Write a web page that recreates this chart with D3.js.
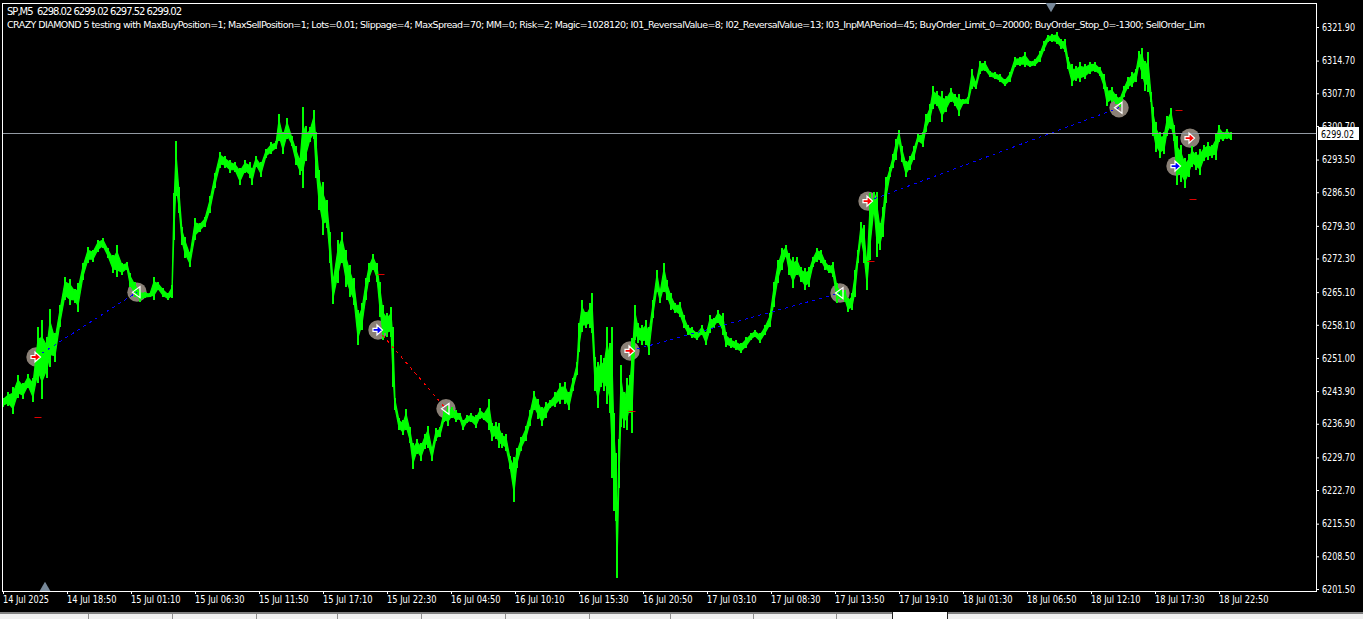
<!DOCTYPE html>
<html><head><meta charset="utf-8"><title>SP,M5</title>
<script src="https://cdn.jsdelivr.net/npm/d3@7"></script>
<style>html,body{margin:0;padding:0;background:#000;overflow:hidden}svg{display:block}
text{font-family:"DejaVu Sans",sans-serif;fill:#fff}</style></head><body>
<script>
const barNumber=[3,8,13,18,23,28,33,38,42,47,50,55,60,65,70,75,78,83,88,93,98,103,108,113,117,122,127,130,135,140,145,150,154,158,163,168,172,174,176,179,182,185,190,195,200,205,210,215,220,225,230,235,240,245,250,252,256,261,266,271,276,279,283,287,292,296,300,303,306,310,314,316,319,323,327,330,333,338,342,346,350,354,358,362,366,369,373,377,380,383,387,391,393,395,399,403,406,410,413,417,421,425,428,432,436,440,444,448,452,456,460,463,467,471,476,480,484,489,492,496,499,502,506,510,514,517,521,526,530,534,538,542,546,550,555,560,565,569,573,577,579,582,586,590,592,595,598,601,604,607,610,612,614,616,617,619,621,624,627,630,632,635,638,642,646,649,653,657,660,664,667,671,675,680,684,688,692,697,702,706,710,714,718,723,726,731,736,741,746,751,755,760,765,770,774,778,782,786,789,793,797,801,805,809,813,817,821,825,829,833,837,841,845,848,852,855,858,861,864,867,870,874,877,880,883,886,890,893,896,899,902,906,910,914,918,923,926,930,933,937,942,946,951,955,959,963,968,972,976,980,985,990,995,1000,1005,1010,1015,1020,1025,1030,1035,1040,1044,1048,1052,1057,1061,1065,1068,1072,1076,1080,1085,1090,1095,1100,1104,1107,1112,1116,1120,1124,1128,1132,1136,1139,1142,1145,1148,1151,1153,1156,1160,1164,1167,1171,1174,1177,1181,1185,1189,1192,1196,1200,1204,1208,1212,1216,1219,1223,1227,1231];
const barHigh=[6242.5,6243.6,6244.7,6247.3,6245.6,6247.5,6246.6,6257.6,6259.1,6255.4,6261.5,6256.3,6262.3,6268.4,6267.9,6265.8,6267.1,6271.4,6274.8,6274.2,6276.3,6276.7,6274.6,6273.1,6275.2,6271.4,6271.6,6269.2,6267.3,6265.5,6265.1,6264.9,6268.4,6267.3,6266.0,6264.9,6266.6,6286.4,6297.4,6287.7,6279.1,6277.0,6273.7,6281.0,6280.0,6281.3,6285.6,6290.7,6295.2,6294.2,6293.5,6292.9,6291.8,6293.3,6292.9,6291.8,6294.2,6292.9,6295.7,6297.2,6297.4,6303.2,6299.3,6302.5,6298.5,6296.3,6293.9,6304.7,6300.6,6300.4,6304.1,6299.3,6291.3,6288.6,6284.9,6278.0,6268.4,6276.3,6278.0,6274.2,6270.9,6268.1,6261.2,6262.8,6268.1,6271.4,6273.3,6271.4,6267.3,6262.3,6260.6,6261.9,6257.6,6242.5,6238.2,6237.6,6240.0,6236.1,6232.7,6233.7,6232.7,6234.8,6236.5,6231.8,6235.9,6236.1,6239.8,6240.8,6240.4,6239.8,6239.3,6237.6,6238.7,6239.1,6238.7,6240.2,6239.3,6242.1,6237.0,6237.2,6237.0,6235.0,6234.8,6230.1,6229.7,6231.8,6234.0,6236.5,6239.8,6244.0,6242.3,6240.4,6241.5,6241.9,6243.6,6245.6,6245.8,6243.6,6246.8,6250.1,6258.5,6263.4,6260.8,6262.8,6264.9,6251.1,6250.1,6251.6,6250.9,6257.6,6254.2,6257.6,6239.3,6230.7,6216.1,6233.7,6249.4,6243.6,6246.8,6247.3,6255.2,6262.3,6258.5,6258.0,6259.1,6257.6,6263.4,6269.9,6265.5,6271.4,6267.7,6264.9,6262.8,6263.0,6260.2,6258.0,6257.6,6256.5,6258.0,6256.5,6260.2,6259.5,6261.2,6260.6,6256.5,6255.2,6254.8,6254.2,6255.4,6256.3,6257.0,6256.3,6258.0,6260.6,6267.3,6272.0,6274.6,6275.2,6273.5,6272.7,6272.7,6270.5,6270.3,6270.5,6272.7,6274.6,6274.2,6272.0,6270.9,6271.6,6267.1,6265.5,6265.5,6263.8,6264.9,6269.9,6274.2,6280.2,6279.5,6272.0,6286.4,6286.6,6286.6,6280.0,6283.4,6289.8,6292.0,6294.6,6297.8,6299.8,6296.3,6293.1,6294.2,6296.3,6298.9,6299.5,6303.2,6305.3,6309.2,6308.1,6308.1,6307.1,6308.8,6307.5,6307.5,6306.4,6306.9,6312.9,6310.1,6314.6,6314.6,6312.4,6312.2,6311.8,6310.7,6312.2,6315.5,6315.5,6316.5,6314.6,6315.0,6316.7,6318.9,6320.2,6320.4,6320.8,6319.3,6319.3,6315.5,6313.9,6313.5,6314.4,6313.9,6314.4,6314.4,6313.3,6311.8,6309.0,6309.0,6307.5,6306.9,6309.2,6311.2,6312.2,6312.9,6316.7,6317.4,6314.6,6316.5,6307.9,6304.7,6301.5,6299.5,6299.5,6302.8,6304.5,6301.0,6298.5,6296.7,6293.9,6294.6,6296.3,6295.2,6295.7,6296.7,6297.2,6296.7,6298.9,6301.0,6299.5,6300.0,6299.3];
const barLow=[6240.4,6240.8,6238.9,6242.5,6242.3,6244.5,6241.5,6245.6,6242.3,6246.8,6249.0,6250.1,6257.6,6263.4,6262.3,6262.8,6260.8,6267.7,6271.4,6271.6,6273.7,6274.6,6272.4,6269.2,6268.4,6268.8,6269.9,6266.2,6264.0,6263.0,6263.8,6264.0,6263.4,6265.5,6264.0,6263.4,6263.8,6276.3,6285.6,6282.1,6275.2,6272.4,6270.5,6276.3,6278.0,6279.1,6282.1,6287.5,6291.8,6291.8,6290.7,6290.9,6288.1,6290.7,6289.6,6288.1,6292.0,6289.8,6293.9,6294.6,6295.7,6297.4,6294.6,6297.8,6296.3,6292.4,6290.3,6287.5,6293.1,6297.2,6297.8,6289.6,6282.8,6277.4,6278.9,6271.4,6262.5,6267.1,6271.4,6266.2,6264.0,6262.3,6253.7,6257.0,6263.4,6267.3,6269.9,6267.3,6259.7,6254.8,6255.4,6255.4,6244.7,6239.8,6235.5,6234.4,6235.5,6232.7,6227.3,6230.5,6229.0,6231.6,6231.8,6229.0,6233.3,6234.0,6237.2,6236.5,6238.2,6237.2,6237.6,6235.5,6237.0,6237.2,6235.9,6238.0,6237.6,6235.5,6233.3,6233.7,6231.8,6231.8,6231.1,6227.3,6220.2,6227.5,6231.1,6233.3,6236.5,6239.8,6238.0,6236.5,6238.2,6240.2,6240.4,6241.2,6241.2,6239.8,6244.0,6247.3,6252.2,6256.5,6257.4,6257.4,6256.3,6244.0,6240.2,6244.7,6244.0,6241.2,6239.1,6225.3,6218.2,6216.1,6203.8,6223.2,6236.1,6235.9,6235.5,6239.3,6235.0,6254.8,6254.2,6253.7,6253.7,6251.6,6259.5,6265.1,6262.8,6265.1,6263.4,6261.2,6260.6,6259.7,6257.4,6255.9,6255.2,6254.8,6255.9,6253.7,6256.3,6257.4,6258.5,6255.9,6253.3,6253.1,6252.6,6252.0,6253.1,6254.8,6255.4,6254.2,6255.9,6257.6,6261.9,6267.1,6269.9,6272.7,6268.8,6266.0,6268.8,6267.3,6265.5,6266.2,6270.5,6271.6,6271.4,6269.9,6269.2,6268.4,6262.8,6263.4,6263.0,6260.8,6261.2,6264.0,6271.4,6275.9,6271.4,6265.5,6272.0,6282.3,6272.7,6274.2,6277.0,6284.3,6289.8,6291.8,6293.5,6297.2,6292.9,6289.8,6291.3,6293.5,6297.2,6296.1,6299.5,6301.5,6304.3,6304.9,6301.5,6303.6,6305.8,6304.9,6302.8,6305.3,6305.3,6308.6,6308.6,6311.8,6312.4,6311.2,6310.7,6310.1,6309.2,6310.1,6313.3,6313.5,6313.3,6313.3,6313.5,6314.4,6316.7,6318.7,6318.7,6318.2,6317.2,6316.5,6312.9,6309.2,6310.3,6310.1,6310.7,6311.8,6312.2,6311.4,6308.6,6304.9,6305.8,6305.3,6304.7,6306.9,6308.6,6309.0,6310.1,6313.3,6310.7,6308.1,6307.9,6305.8,6298.5,6295.2,6293.9,6294.6,6298.5,6300.0,6297.4,6288.1,6288.8,6287.5,6289.8,6292.0,6291.3,6290.3,6293.1,6293.5,6293.9,6293.5,6297.2,6297.4,6297.8,6297.6];

const yTickValues=[6321.9,6314.7,6307.7,6300.7,6293.5,6286.5,6279.3,6272.3,6265.1,6258.1,6251.0,6243.9,6236.9,6229.7,6222.7,6215.5,6208.5,6201.5];
const xTickBars=[3,67,131,195,259,323,387,451,515,579,643,707,771,835,899,963,1027,1091,1155,1219];
const xTickLabels=["14 Jul 2025","14 Jul 18:50","15 Jul 01:10","15 Jul 06:30","15 Jul 11:50","15 Jul 17:10","15 Jul 22:30","16 Jul 04:50","16 Jul 10:10","16 Jul 15:30","16 Jul 20:50","17 Jul 03:10","17 Jul 08:30","17 Jul 13:50","17 Jul 19:10","18 Jul 01:30","18 Jul 06:50","18 Jul 12:10","18 Jul 17:30","18 Jul 22:50"];

const currentPrice=6299.02;
const tradeBars=[36,137,378,446,630,840,868,1119,1176,1190];
const tradePrices=[6251.2,6265.1,6257.0,6240.1,6252.5,6264.9,6284.6,6304.6,6292.1,6298.1];
const tradeKinds=["buy","close","sell","close","buy","close","buy","close","sell","buy"];
const linkFrom=[0,2,4,6];
const linkTo=[1,3,5,7];
const linkColors=["#0000ff","#ff0000","#0000ff","#0000ff"];
const stopBars=[38,381,632,871,1179,1193];
const stopPrices=[6238.4,6269.0,6239.6,6271.8,6304.1,6285.1];
const headerLine="SP,M5  6298.02 6299.02 6297.52 6299.02";
const commentLine="CRAZY DIAMOND 5 testing with MaxBuyPosition=1; MaxSellPosition=1; Lots=0.01; Slippage=4; MaxSpread=70; MM=0; Risk=2; Magic=1028120; I01_ReversalValue=8; I02_ReversalValue=13; I03_InpMAPeriod=45; BuyOrder_Limit_0=20000; BuyOrder_Stop_0=-1300; SellOrder_Lim";
const tabDividers=[88,172,256,337,421,505,589,670,753,836];

const W=1363,H=619;
const x=d3.scaleLinear().domain([0,W]).range([0,W]);
const y=d3.scaleLinear().domain([6321.9,6201.5]).range([27,589]);
const svg=d3.select("body").append("svg").attr("width",W).attr("height",H);
svg.append("rect").attr("width",W).attr("height",H).attr("fill","#000");

// disc markers sit under the price bars
svg.append("g").selectAll("circle").data(tradeBars).join("circle")
  .attr("cx",d=>x(d)).attr("cy",(d,i)=>y(tradePrices[i])).attr("r",9.7).attr("fill","#8a8076");

// price bars: a narrower band joining the bars, and a high-low stroke per bar
const bars=barNumber.map((b,i)=>({b,h:barHigh[i],l:barLow[i]}));
const inner=d3.area().x(d=>x(d.b))
  .y0(d=>y(d.l+(d.h-d.l)*0.22)).y1(d=>y(d.h-(d.h-d.l)*0.22));
svg.append("path").datum(bars).attr("d",inner).attr("fill","#00ff00").attr("stroke","#00ff00").attr("stroke-width",1.2);
svg.append("g").selectAll("line").data(bars).join("line")
  .attr("x1",d=>Math.round(x(d.b))).attr("x2",d=>Math.round(x(d.b)))
  .attr("y1",d=>y(d.h)).attr("y2",d=>y(d.l))
  .attr("stroke","#00ff00").attr("stroke-width",2).attr("shape-rendering","crispEdges");

// trade links
svg.append("g").selectAll("line").data(linkFrom).join("line")
  .attr("x1",d=>x(tradeBars[d])).attr("y1",d=>y(tradePrices[d]))
  .attr("x2",(d,i)=>x(tradeBars[linkTo[i]])).attr("y2",(d,i)=>y(tradePrices[linkTo[i]]))
  .attr("stroke",(d,i)=>linkColors[i]).attr("stroke-width",1).attr("stroke-dasharray","3 4").attr("shape-rendering","crispEdges");

// stop ticks
svg.append("g").selectAll("line").data(stopBars).join("line")
  .attr("x1",d=>x(d)-3.5).attr("x2",d=>x(d)+3.5)
  .attr("y1",(d,i)=>Math.round(y(stopPrices[i]))+.5).attr("y2",(d,i)=>Math.round(y(stopPrices[i]))+.5)
  .attr("stroke","#e00000");

// current price line
const py=Math.round(y(currentPrice))-.5;
svg.append("line").attr("x1",3).attr("x2",1316).attr("y1",py).attr("y2",py).attr("stroke","#939aa3");

// trade glyphs
const arrow="M-5,-1.5H-1V-5L4.5,0L-1,5V1.5H-5Z";
const tri="M3,-5.5V5.5L-4.5,0Z";
svg.append("g").selectAll("path").data(tradeBars).join("path")
  .attr("transform",(d,i)=>`translate(${x(d)},${y(tradePrices[i])})`)
  .attr("d",(d,i)=>tradeKinds[i]==="close"?tri:arrow)
  .attr("fill",(d,i)=>tradeKinds[i]==="buy"?"#ff0000":tradeKinds[i]==="sell"?"#0000ff":"none")
  .attr("stroke","#fff").attr("stroke-width",1.2);

// frame
svg.append("rect").attr("x",2.5).attr("y",3.5).attr("width",1314).attr("height",588)
  .attr("fill","none").attr("stroke","#fff");

// shift markers
const tri2=d3.symbol().type(d3.symbolTriangle).size(50);
svg.append("path").attr("d",tri2).attr("fill","#778899").attr("transform","translate(45,588)");
svg.append("path").attr("d",tri2).attr("fill","#778899").attr("transform","translate(1051,6) rotate(180)");

const fitted=(sel,len)=>sel.attr("textLength",len).attr("lengthAdjust","spacingAndGlyphs");

// axes
const yAxis=d3.axisRight(y).tickValues(yTickValues).tickFormat(d3.format(".2f")).tickSize(3).tickPadding(3);
const ga=svg.append("g").attr("transform","translate(1316,0)").call(yAxis);
ga.select(".domain").remove();
ga.selectAll("line").attr("stroke","#fff");
ga.selectAll("text").attr("font-size",10).attr("fill","#fff").attr("font-family",'"DejaVu Sans",sans-serif').call(fitted,33);

const xAxis=d3.axisBottom(x).tickValues(xTickBars).tickFormat((d,i)=>xTickLabels[i]).tickSize(3).tickPadding(3);
const gx=svg.append("g").attr("transform","translate(0,591)").call(xAxis);
gx.select(".domain").remove();
gx.selectAll("line").attr("stroke","#fff");
gx.selectAll("text").attr("font-size",10).attr("text-anchor","start").attr("dx",-0.5).attr("y",5).attr("fill","#fff").attr("font-family",'"DejaVu Sans",sans-serif')
  .each(function(d,i){d3.select(this).call(fitted,i===0?46:49.5);});

// current price tag
svg.append("rect").attr("x",1318).attr("y",py-6.5).attr("width",41).attr("height",13).attr("fill","#fff");
svg.append("text").attr("x",1321).attr("y",py+4).attr("font-size",10).style("fill","#000").call(fitted,33).text(d3.format(".2f")(currentPrice));

// header text
svg.append("text").attr("x",7).attr("y",15).attr("font-size",10).style("white-space","pre").attr("textLength",175).attr("lengthAdjust","spacing").text(headerLine);
svg.append("text").attr("x",7).attr("y",28).attr("font-size",9.5).attr("textLength",1198).attr("lengthAdjust","spacing").text(commentLine);

// tab strip
svg.append("rect").attr("x",0).attr("y",612.5).attr("width",W).attr("height",1).attr("fill","#fff");
svg.append("rect").attr("x",0).attr("y",614).attr("width",W).attr("height",5).attr("fill","#f0f0f0");
svg.append("g").selectAll("line").data(tabDividers).join("line")
  .attr("x1",d=>d+.5).attr("x2",d=>d+.5).attr("y1",614).attr("y2",619).attr("stroke","#8f8f8f");
svg.append("rect").attr("x",893).attr("y",612).attr("width",54).attr("height",7).attr("fill","#fff");
svg.append("rect").attr("x",892).attr("y",612).attr("width",1).attr("height",7).attr("fill","#222");
svg.append("rect").attr("x",947).attr("y",612).attr("width",1).attr("height",7).attr("fill","#222");
</script></body></html>
